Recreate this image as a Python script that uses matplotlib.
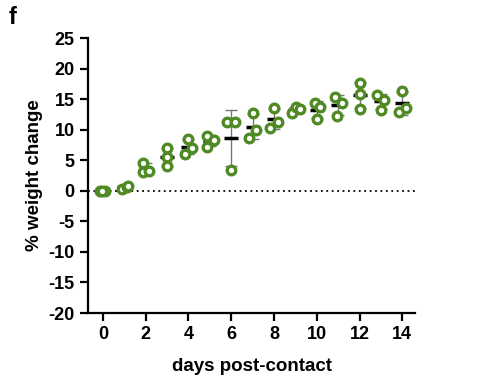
import numpy as np
import matplotlib
matplotlib.use("Agg")
import matplotlib.pyplot as plt

plt.rcParams['font.family'] = ['Liberation Sans', 'DejaVu Sans']
plt.rcParams['font.weight'] = 'bold'
plt.rcParams['axes.unicode_minus'] = False

# days post-contact, three animals per day
days = [0, 1, 2, 3, 4, 5, 6, 7, 8, 9, 10, 11, 12, 13, 14]
weight = [
    [0.0, 0.0, 0.0],
    [0.3, 0.6, 0.8],
    [4.6, 3.0, 3.3],
    [7.0, 5.6, 4.1],
    [8.5, 6.1, 7.0],
    [9.0, 7.2, 8.3],
    [11.3, 11.3, 3.4],
    [12.8, 10.0, 8.7],
    [13.6, 11.3, 10.3],
    [12.8, 13.7, 13.4],
    [14.4, 13.7, 11.8],
    [15.4, 14.4, 12.3],
    [17.7, 15.9, 13.4],
    [15.7, 14.9, 13.3],
    [16.4, 12.9, 13.6],
]
# horizontal scatter of the points (days)
jitter = [
    [-0.14, 0.1, -0.02],
    [-0.1, 0.12, 0.17],
    [-0.13, -0.13, 0.15],
    [0.0, 0.0, 0.0],
    [0.0, -0.16, 0.17],
    [-0.13, -0.13, 0.2],
    [-0.2, 0.2, 0.0],
    [0.0, 0.16, -0.16],
    [0.0, 0.2, -0.2],
    [-0.15, 0.05, 0.2],
    [-0.1, 0.15, 0.0],
    [-0.15, 0.2, -0.05],
    [0.0, 0.0, 0.0],
    [-0.17, 0.15, 0.0],
    [0.0, -0.15, 0.15],
]

green = '#4f8a24'

fig = plt.figure(figsize=(4.8, 3.92), dpi=100)
ax = fig.add_axes([0.183, 0.2015, 0.682, 0.7015])

w = np.array(weight)
mean = w.mean(axis=1)
sd = w.std(axis=1, ddof=1)

ax.axhline(0, color='black', lw=1.3, ls=(0, (1, 2)), zorder=1)
ax.errorbar(days, mean, yerr=sd, fmt='none', ecolor='#777777', elinewidth=1,
            capsize=4, capthick=1, zorder=2)
ax.scatter(days, mean, marker='_', s=115, color='black', linewidths=2.5, zorder=3)

x = np.array(days)[:, None] + np.array(jitter)
ax.plot(x.ravel(), w.ravel(), 'o', ms=6.2, mfc='white', mec=green, mew=2.4,
        ls='none', zorder=4)

ax.set_xlim(-0.7, 14.6)
ax.set_ylim(-20, 25)
ax.set_xticks(range(0, 15, 2))
ax.set_yticks(range(-20, 26, 5))
for s in ['top', 'right']:
    ax.spines[s].set_visible(False)
for s in ['left', 'bottom']:
    ax.spines[s].set_linewidth(1.6)
ax.tick_params(width=1.6, length=6, labelsize=13)
for lab in ax.get_xticklabels() + ax.get_yticklabels():
    lab.set_fontweight('bold')
ax.set_xlabel('days post-contact', fontsize=13.5, fontweight='bold', labelpad=11)
ax.set_ylabel('% weight change', fontsize=13.5, fontweight='bold', labelpad=4)

fig.text(0.017, 0.94, 'f', fontsize=17, fontweight='bold')

fig.savefig('out.png', dpi=100)
